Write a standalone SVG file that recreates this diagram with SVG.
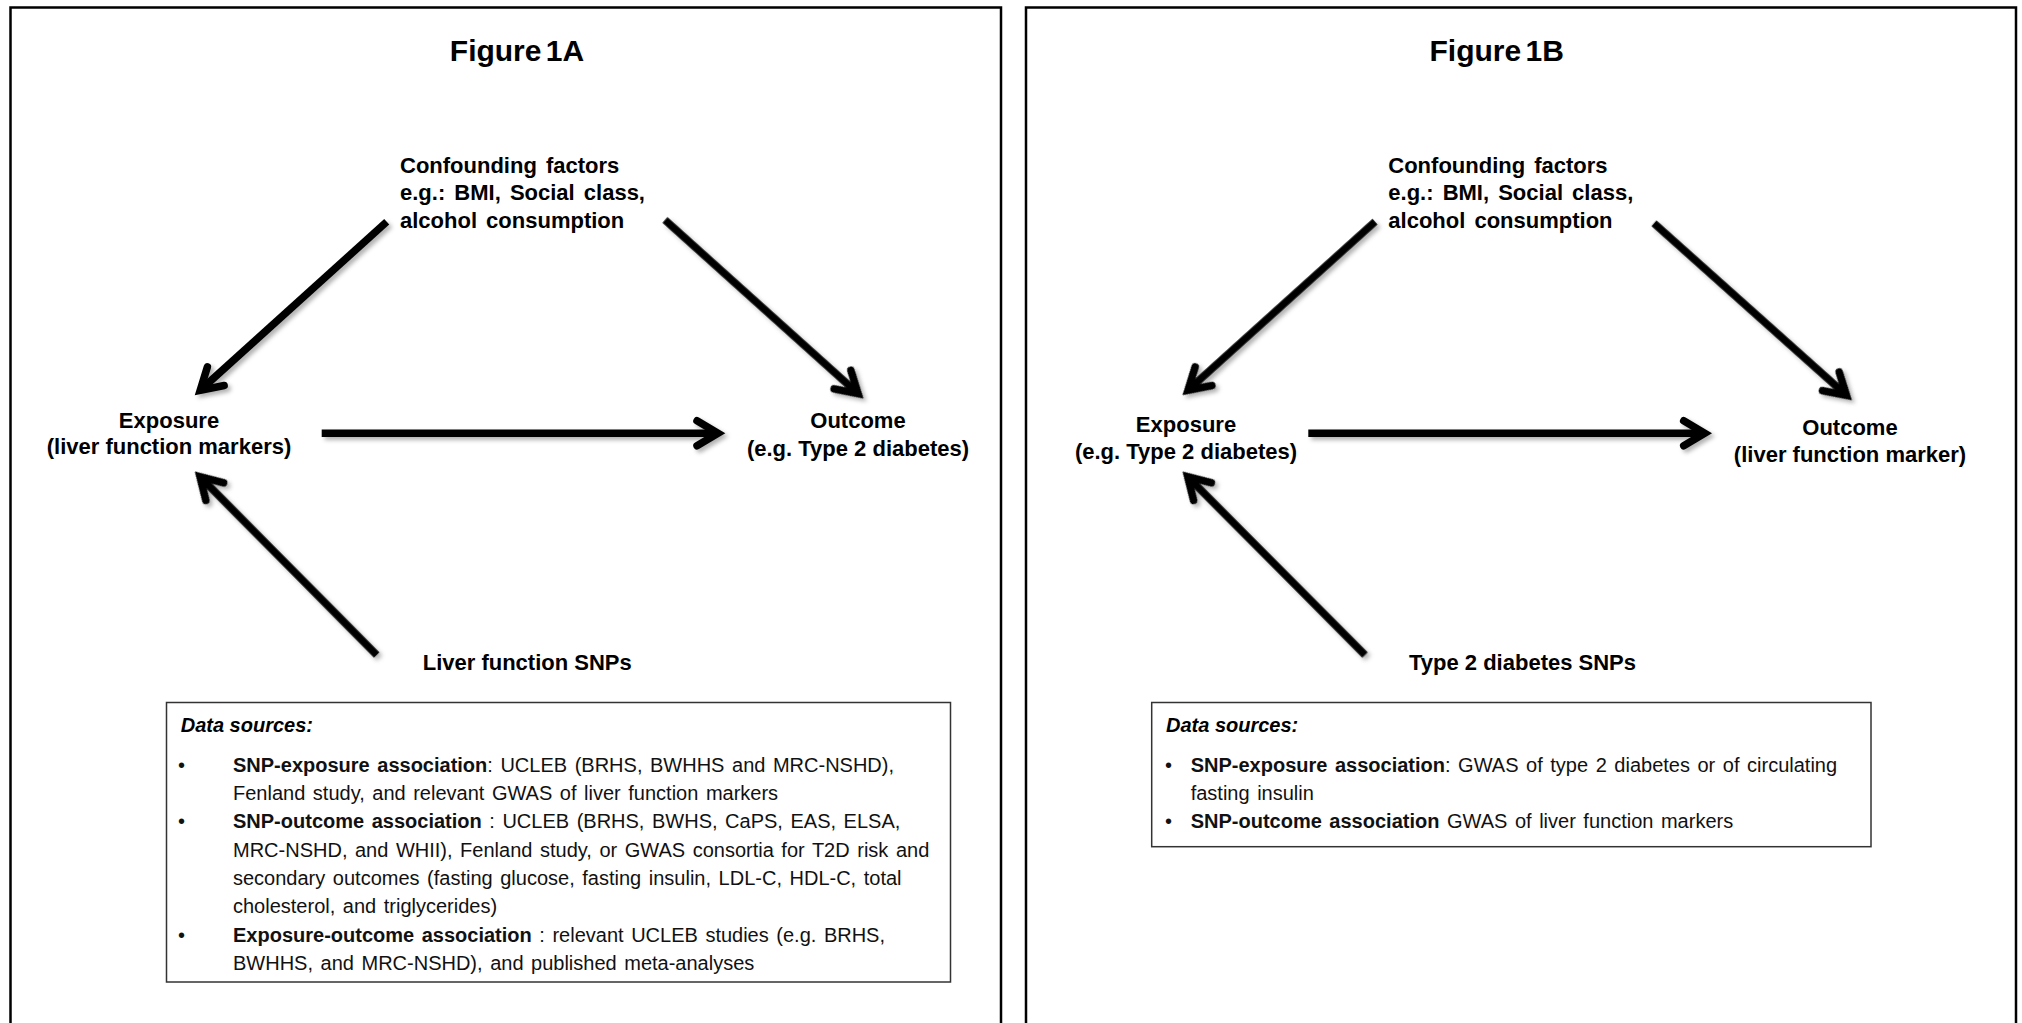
<svg xmlns="http://www.w3.org/2000/svg" xmlns:xlink="http://www.w3.org/1999/xlink" width="2022" height="1023" viewBox="0 0 2022 1023">
  <style>
    text { font-family: "Liberation Sans", Arial, sans-serif; fill: #000; }
    .title { font-size: 30px; font-weight: bold; text-anchor: middle; word-spacing: -4px; }
    .lbl { font-size: 22px; font-weight: bold; }
    .mid { text-anchor: middle; }
    .conf { word-spacing: 3px; }
    .src { font-size: 20px; word-spacing: 2px; fill: #111; }
    .hdr { font-size: 20px; font-weight: bold; font-style: italic; }
    .b { font-weight: bold; }
    .panel { fill: #fff; stroke: #000; stroke-width: 2.5; }
    .box { fill: #fff; stroke: #333; stroke-width: 1.5; }
    .shaft { stroke: #000; stroke-width: 7.5; stroke-linecap: butt; fill: none; }
    .head { stroke: #000; stroke-width: 7.5; stroke-linecap: round; stroke-linejoin: miter; stroke-miterlimit: 6; fill: none; }
  </style>
  <defs>
    <filter id="shadow" x="-20%" y="-20%" width="140%" height="140%">
      <feDropShadow dx="3" dy="3" stdDeviation="2" flood-color="#000" flood-opacity="0.3"/>
    </filter>
    <path id="head" class="head" d="M-28,-12.5 L-7,0 L-28,12.5"/>
  </defs>

  <rect width="2022" height="1023" fill="#fff"/>

  <!-- Panel A -->
  <g id="panelA">
    <rect class="panel" x="10.5" y="7.5" width="990.5" height="1030"/>
  </g>
  <g id="titleA"><text class="title" x="517" y="61">Figure 1A</text></g>
  <g id="confoundersA">
    <text class="lbl conf" x="400" y="172.7">Confounding factors</text>
    <text class="lbl conf" x="400" y="200">e.g.: BMI, Social class,</text>
    <text class="lbl conf" x="400" y="227.7">alcohol consumption</text>
  </g>
  <g id="exposureA">
    <text class="lbl mid" x="169" y="427.7">Exposure</text>
    <text class="lbl mid" x="169" y="454">(liver function markers)</text>
  </g>
  <g id="outcomeA">
    <text class="lbl mid" x="858" y="428">Outcome</text>
    <text class="lbl mid" x="858" y="456">(e.g. Type 2 diabetes)</text>
  </g>
  <g id="snpsA">
    <text class="lbl" x="422.7" y="670">Liver function SNPs</text>
  </g>
  <g id="sourcesA">
    <rect class="box" x="166.5" y="702.5" width="784" height="279.5"/>
    <text class="hdr" x="180.7" y="731.7">Data sources:</text>
    <text class="src" x="178" y="771.7">•</text>
    <text class="src" x="233" y="771.7"><tspan class="b">SNP-exposure association</tspan>: UCLEB (BRHS, BWHHS and MRC-NSHD),</text>
    <text class="src" x="233" y="800">Fenland study, and relevant GWAS of liver function markers</text>
    <text class="src" x="178" y="828.3">•</text>
    <text class="src" x="233" y="828.3"><tspan class="b">SNP-outcome association</tspan> : UCLEB (BRHS, BWHS, CaPS, EAS, ELSA,</text>
    <text class="src" x="233" y="856.7">MRC-NSHD, and WHII), Fenland study, or GWAS consortia for T2D risk and</text>
    <text class="src" x="233" y="885">secondary outcomes (fasting glucose, fasting insulin, LDL-C, HDL-C, total</text>
    <text class="src" x="233" y="913.3">cholesterol, and triglycerides)</text>
    <text class="src" x="178" y="941.7">•</text>
    <text class="src" x="233" y="941.7"><tspan class="b">Exposure-outcome association</tspan> : relevant UCLEB studies (e.g. BRHS,</text>
    <text class="src" x="233" y="970">BWHHS, and MRC-NSHD), and published meta-analyses</text>
  </g>

  <!-- Panel B -->
  <g id="panelB">
    <rect class="panel" x="1026" y="7.5" width="990" height="1030"/>
  </g>
  <g id="titleB"><text class="title" x="1496.7" y="61">Figure 1B</text></g>
  <g id="confoundersB">
    <text class="lbl conf" x="1388.3" y="172.7">Confounding factors</text>
    <text class="lbl conf" x="1388.3" y="200">e.g.: BMI, Social class,</text>
    <text class="lbl conf" x="1388.3" y="227.7">alcohol consumption</text>
  </g>
  <g id="exposureB">
    <text class="lbl mid" x="1186" y="431.7">Exposure</text>
    <text class="lbl mid" x="1186" y="459.3">(e.g. Type 2 diabetes)</text>
  </g>
  <g id="outcomeB">
    <text class="lbl mid" x="1850" y="435">Outcome</text>
    <text class="lbl mid" x="1850" y="461.7">(liver function marker)</text>
  </g>
  <g id="snpsB">
    <text class="lbl" x="1409" y="670">Type 2 diabetes SNPs</text>
  </g>
  <g id="sourcesB">
    <rect class="box" x="1151.7" y="702.5" width="719.3" height="144.2"/>
    <text class="hdr" x="1166" y="731.7">Data sources:</text>
    <text class="src" x="1165" y="771.7">•</text>
    <text class="src" x="1190.7" y="771.7"><tspan class="b">SNP-exposure association</tspan>: GWAS of type 2 diabetes or of circulating</text>
    <text class="src" x="1190.7" y="800">fasting insulin</text>
    <text class="src" x="1165" y="828.3">•</text>
    <text class="src" x="1190.7" y="828.3"><tspan class="b">SNP-outcome association</tspan> GWAS of liver function markers</text>
  </g>

  <!-- Connectors -->
  <g id="connectors" filter="url(#shadow)">
    <g id="confA-expA" transform="translate(195,395) rotate(137.9)">
      <line class="shaft" x1="-258.4" y1="0" x2="-8" y2="0"/><use xlink:href="#head"/>
    </g>
    <g id="confA-outA" transform="translate(863.3,398.3) rotate(41.96)">
      <line class="shaft" x1="-266.7" y1="0" x2="-8" y2="0"/><use xlink:href="#head"/>
    </g>
    <g id="expA-outA" transform="translate(725,433.3)">
      <line class="shaft" x1="-403.3" y1="0" x2="-8" y2="0"/><use xlink:href="#head"/>
    </g>
    <g id="snpA-expA" transform="translate(195,471.7) rotate(-134.75)">
      <line class="shaft" x1="-258.1" y1="0" x2="-8" y2="0"/><use xlink:href="#head"/>
    </g>
    <g id="confB-expB" transform="translate(1182.7,395) rotate(137.97)">
      <line class="shaft" x1="-258.9" y1="0" x2="-8" y2="0"/><use xlink:href="#head"/>
    </g>
    <g id="confB-outB" transform="translate(1851.7,400) rotate(41.79)">
      <line class="shaft" x1="-265.2" y1="0" x2="-8" y2="0"/><use xlink:href="#head"/>
    </g>
    <g id="expB-outB" transform="translate(1711.7,433.3)">
      <line class="shaft" x1="-403.4" y1="0" x2="-8" y2="0"/><use xlink:href="#head"/>
    </g>
    <g id="snpB-expB" transform="translate(1182.7,471.7) rotate(-134.84)">
      <line class="shaft" x1="-258.5" y1="0" x2="-8" y2="0"/><use xlink:href="#head"/>
    </g>
  </g>
</svg>
